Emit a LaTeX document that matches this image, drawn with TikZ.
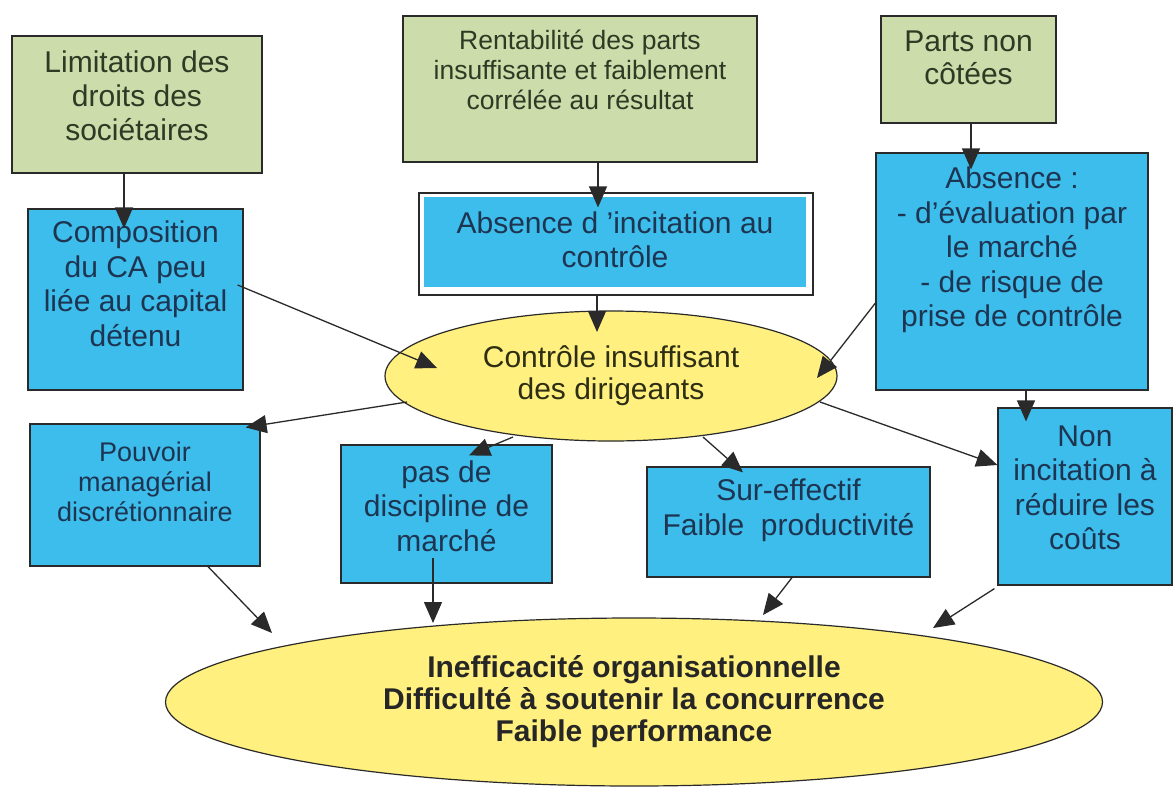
\documentclass[tikz,border=0pt]{standalone}
\usepackage{fontspec}
\setmainfont{Liberation Sans}
\usetikzlibrary{arrows.meta,calc,shapes.geometric}
\definecolor{gfill}{HTML}{CCDCAA}
\definecolor{bfill}{HTML}{3DBDEB}
\definecolor{yfill}{HTML}{FFF07F}
\definecolor{gtext}{HTML}{2E3A24}
\definecolor{btext}{HTML}{1E3552}
\definecolor{ytext}{HTML}{2E2E14}
\definecolor{edge}{HTML}{2A2A2A}
\begin{document}
\begin{tikzpicture}[x=1pt,y=-1pt,
  gbox/.style={draw=edge, line width=1.2pt, fill=gfill, rectangle, inner sep=0pt},
  bbox/.style={draw=edge, line width=1.2pt, fill=bfill, rectangle, inner sep=0pt},
  gtxt/.style={align=center, inner sep=0pt, text=gtext, font=\fontsize{30}{34}\selectfont},
  btxt/.style={align=center, inner sep=0pt, text=btext, font=\fontsize{30}{34.5}\selectfont},
  ell/.style={draw=edge, line width=1.2pt, fill=yfill, ellipse, inner sep=0pt, align=center, text=ytext},
  arr/.style={draw=edge, line width=1.3pt, -{Triangle[length=21pt,width=18pt]}}
]
\useasboundingbox (0,0) rectangle (1174,787);
\fill[white] (0,0) rectangle (1174,787);

% top green boxes
\node[gbox, minimum width=250pt, minimum height=137pt] (g1) at (137,104.5) {};
\node[gtxt] (g1t) at (137,96) {Limitation des\\droits des\\sociétaires};
\node[gbox, minimum width=354pt, minimum height=146pt] (g2) at (580,89) {};
\node[gtxt, font=\fontsize{26.5}{30}\selectfont] (g2t) at (580,70) {Rentabilité des parts\\insuffisante et faiblement\\corrélée au résultat};
\node[gbox, minimum width=175pt, minimum height=107pt] (g3) at (968.5,69.5) {};
\node[gtxt, font=\fontsize{30}{33}\selectfont] (g3t) at (968.5,58) {Parts non\\côtées};

% second row blue boxes
\node[bbox, minimum width=215pt, minimum height=181pt] (b1) at (135.5,299.5) {};
\node[btxt] (b1t) at (135.5,284) {Composition\\du CA peu\\liée au capital\\détenu};
\node[draw=edge, fill=white, line width=1.2pt, rectangle, inner sep=0pt, minimum width=394pt, minimum height=102pt] (b2) at (616,244) {};
\node[fill=bfill, rectangle, inner sep=0pt, minimum width=382pt, minimum height=90pt] (b2in) at (615,242) {};
\node[btxt] (b2t) at (615,240) {Absence d 'incitation au\\contrôle};
\node[bbox, minimum width=272pt, minimum height=237pt] (b3) at (1012,271.5) {};
\node[btxt] (b3t) at (1012,250) {Absence :\\- d’évaluation par\\le marché\\- de risque de\\prise de contrôle};

% middle ellipse
\node[ell, minimum width=452pt, minimum height=130pt, font=\fontsize{30}{32}\selectfont] (e1) at (611,376) {Contrôle insuffisant\\des dirigeants};

% third row blue boxes
\node[bbox, minimum width=230pt, minimum height=142pt] (b4) at (145,495) {};
\node[btxt, font=\fontsize{27}{30}\selectfont] (b4t) at (145,482) {Pouvoir\\managérial\\discrétionnaire};
\node[bbox, minimum width=211pt, minimum height=138pt] (b5) at (446.5,514) {};
\node[btxt] (b5t) at (446.5,506) {pas de\\discipline de\\marché};
\node[bbox, minimum width=283pt, minimum height=110pt] (b6) at (788.5,522) {};
\node[btxt] (b6t) at (788.5,510) {Sur-effectif\\Faible\ \ productivité};
\node[bbox, minimum width=174pt, minimum height=177pt] (b7) at (1085,496.5) {};
\node[btxt] (b7t) at (1085,488) {Non\\incitation à\\réduire les\\coûts};

% bottom ellipse
\node[ell, minimum width=937pt, minimum height=168pt, text=black!85, font=\fontsize{30}{32}\selectfont\bfseries] (e2) at (634,702) {Inefficacité organisationnelle\\Difficulté à soutenir la concurrence\\Faible performance};

% connectors
\draw[arr] ($(g1.south)+(-13,0)$) -- ($(b1.north)+(-11.5,20)$);
\draw[arr] ($(g2.south)+(18,0)$) -- ($(b2.north)+(-18,15)$);
\draw[arr] ($(b2.south)+(-19,0)$) -- ($(e1.center)+(-14,-44)$);
\draw[arr] ($(g3.south)+(2.5,0)$) -- ($(b3.north)+(-41,17)$);
\draw[arr] ($(b1.east)+(-6,-14.5)$) -- ($(e1.center)+(-174,-8)$);
\draw[arr] ($(b3.west)+(0,31.5)$) -- ($(e1.center)+(206,2)$);
\draw[arr] ($(b3.south)+(14,0)$) -- ($(b7.north)+(-59,14)$);
\draw[arr] ($(e1.center)+(-204,26)$) -- ($(b4.north east)+(-15,4)$);
\draw[arr] ($(e1.center)+(-98,61)$) -- ($(b5.north)+(22.5,11)$);
\draw[arr] ($(e1.center)+(92,61)$) -- ($(b6.north)+(-45.5,6)$);
\draw[arr] ($(e1.center)+(209,26)$) -- ($(b7.west)+(0,-31.5)$);
\draw[arr] ($(b4.south)+(63,0)$) -- ($(e2.center)+(-362,-69)$);
\draw[arr] ($(b5.south)+(-13.5,-26)$) -- ($(e2.center)+(-201,-79)$);
\draw[arr] ($(b6.south)+(3.5,0)$) -- ($(e2.center)+(129,-87)$);
\draw[arr] ($(b7.south west)+(-3,3)$) -- ($(e2.center)+(299,-74)$);
\end{tikzpicture}
\end{document}
